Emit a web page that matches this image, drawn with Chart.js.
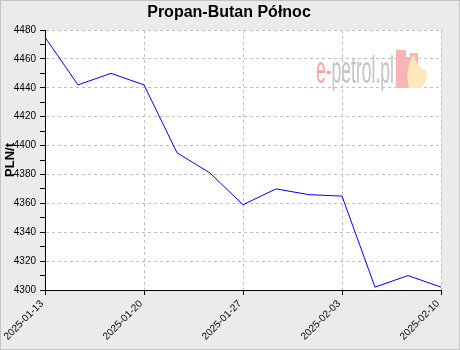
<!DOCTYPE html>
<html>
<head>
<meta charset="utf-8">
<script src="https://cdn.jsdelivr.net/npm/chart.js@4/dist/chart.umd.min.js"></script>
<style>
  html, body { margin:0; padding:0; background:#ebebeb; }
  canvas { display:block; }
</style>
</head>
<body>
<canvas id="chart" width="460" height="350"></canvas>
<script>
// -------------------- DATA --------------------
const chartTitle = "Propan-Butan Północ";
const dates = ["2025-01-13","2025-01-15","2025-01-17","2025-01-20","2025-01-22","2025-01-24",
               "2025-01-27","2025-01-29","2025-01-31","2025-02-03","2025-02-05","2025-02-07","2025-02-10"];
const prices = [4475, 4442, 4450, 4442, 4395, 4381, 4359, 4370, 4366, 4365, 4302, 4310, 4302];
const yMin = 4300, yMax = 4480, yStep = 10, yLabelStep = 20;
const labelEvery = 3;

const GRID = "#c0c0c0";
const NONE = "rgba(0,0,0,0)";

// -------------------- BACKGROUND, TITLE, WATERMARK --------------------
const backdrop = {
    id: "backdrop",
    beforeDraw(chart){
        const {ctx, width, height, chartArea:a} = chart;
        ctx.save();
        ctx.fillStyle = "#ebebeb";
        ctx.fillRect(0, 0, width, height);
        ctx.strokeStyle = "#c4c4c4";
        ctx.strokeRect(0.5, 0.5, width-1, height-1);
        ctx.fillStyle = "#ffffff";
        ctx.fillRect(a.left, a.top, a.right-a.left, a.bottom-a.top);

        // title (centred on the whole picture)
        ctx.fillStyle = "#000";
        ctx.font = 'bold 16px "Liberation Sans", Arial, sans-serif';
        ctx.textAlign = "center";
        ctx.textBaseline = "middle";
        ctx.fillText(chartTitle, width / 2 - 1, 13);
        ctx.restore();
    },
    beforeDatasetsDraw(chart){
        const {ctx, chartArea:a} = chart;
        const x0 = a.right - 125, base = a.top + 53;
        ctx.save();
        ctx.font = '36px "Liberation Sans", Arial, sans-serif';
        ctx.textBaseline = "alphabetic";
        const w1 = ctx.measureText("e-").width;
        const w2 = ctx.measureText("petrol.pl").width;
        const sx = 78 / (w1 + w2);
        ctx.translate(x0, base);
        ctx.scale(sx, 1.1);
        ctx.fillStyle = "#f4a6a6";
        ctx.fillText("e-", 0, 0);
        ctx.fillStyle = "#c4c4c4";
        ctx.fillText("petrol.pl", w1, 0);
        ctx.restore();

        // logo block
        const lx = a.right - 45, ly = a.top + 20;
        ctx.save();
        ctx.fillStyle = "#f6b4b4";
        ctx.fillRect(lx, ly, 10, 38);
        ctx.fillRect(lx + 10, ly + 7, 12, 31);
        ctx.fillRect(lx + 14, ly + 3, 8, 35);
        ctx.fillStyle = "#fde8bc";
        ctx.beginPath();
        ctx.moveTo(lx + 13, ly + 38);
        ctx.quadraticCurveTo(lx + 8, ly + 20, lx + 18, ly + 4);
        ctx.quadraticCurveTo(lx + 20, ly + 18, lx + 30, ly + 20);
        ctx.quadraticCurveTo(lx + 33, ly + 32, lx + 24, ly + 38);
        ctx.closePath();
        ctx.fill();
        ctx.restore();
    }
};

// -------------------- CHART --------------------
new Chart(document.getElementById("chart"), {
    type: "line",
    data: {
        labels: dates,
        datasets: [{
            data: prices,
            borderColor: "#0000ff",
            borderWidth: 1,
            pointRadius: 0,
            tension: 0,
            fill: false
        }]
    },
    options: {
        responsive: false,
        animation: false,
        layout: { padding: { left: 2, right: 19, top: 30, bottom: 0 } },
        plugins: {
            legend: { display: false },
            tooltip: { enabled: false },
            title: { display: false }
        },
        scales: {
            x: {
                type: "category",
                offset: false,
                afterFit: s => { s.height = 60; },
                border: { display: true, color: "#000", width: 1, dash: [3, 3] },
                grid: {
                    color: c => c.index % labelEvery === 0 ? GRID : NONE,
                    tickColor: c => c.index % labelEvery === 0 ? "#000" : NONE,
                    tickLength: 5,
                    lineWidth: 1
                },
                ticks: {
                    autoSkip: false,
                    minRotation: 45,
                    maxRotation: 45,
                    padding: 3,
                    labelOffset: -3,
                    color: "#000",
                    font: { family: "Liberation Sans Narrow, Liberation Sans, Arial, sans-serif", size: 10 },
                    callback: function(v, i){ return i % labelEvery === 0 ? this.getLabelForValue(v) : ""; }
                }
            },
            y: {
                min: yMin,
                max: yMax,
                afterFit: s => { s.width = 43; },
                border: { display: true, color: "#000", width: 1, dash: [3, 3] },
                grid: {
                    color: c => c.tick.value % yLabelStep === 0 ? GRID : NONE,
                    tickColor: "#000",
                    tickLength: 5,
                    lineWidth: 1
                },
                title: {
                    display: true,
                    text: "PLN/t",
                    color: "#000",
                    padding: { top: 1, bottom: 0 },
                    font: { family: "Liberation Sans, Arial, sans-serif", size: 13, weight: "bold" }
                },
                ticks: {
                    stepSize: yStep,
                    autoSkip: false,
                    padding: 4,
                    color: "#000",
                    font: { family: "Liberation Sans Narrow, Liberation Sans, Arial, sans-serif", size: 10 },
                    callback: v => v % yLabelStep === 0 ? v : ""
                }
            }
        }
    },
    plugins: [backdrop]
});
</script>
</body>
</html>
